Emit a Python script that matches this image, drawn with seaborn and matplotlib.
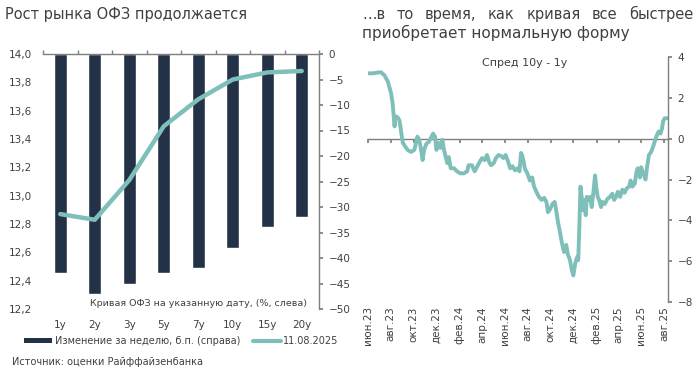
import numpy as np
import pandas as pd
import matplotlib
matplotlib.use("Agg")
import matplotlib.pyplot as plt
import matplotlib.dates as mdates
from matplotlib.ticker import FixedLocator, MultipleLocator, FuncFormatter
from matplotlib.lines import Line2D
from matplotlib.patches import Patch
import seaborn as sns

# ---------------- data ----------------
tenors = ["1y", "2y", "3y", "5y", "7y", "10y", "15y", "20y"]
weekly_change_bp = [-43, -47, -45, -43, -42, -38, -34, -32]
curve_pct = [12.87, 12.83, 13.11, 13.49, 13.68, 13.82, 13.87, 13.88]

spread_dates = [
    "2023-06-01", "2023-06-14", "2023-07-02", "2023-07-06", "2023-07-15", "2023-07-24",
    "2023-08-02", "2023-08-06", "2023-08-11", "2023-08-13", "2023-08-19", "2023-08-24",
    "2023-08-28", "2023-09-02", "2023-09-09", "2023-09-15", "2023-09-24", "2023-10-03",
    "2023-10-11", "2023-10-16", "2023-10-20", "2023-10-25", "2023-10-29", "2023-11-04",
    "2023-11-11", "2023-11-18", "2023-11-22", "2023-11-27", "2023-12-01", "2023-12-06",
    "2023-12-12", "2023-12-17", "2023-12-21", "2023-12-26", "2023-12-30", "2024-01-03",
    "2024-01-08", "2024-01-17", "2024-01-25", "2024-02-03", "2024-02-12", "2024-02-21",
    "2024-02-25", "2024-03-05", "2024-03-12", "2024-03-18", "2024-03-25", "2024-04-01",
    "2024-04-08", "2024-04-14", "2024-04-20", "2024-04-25", "2024-05-02", "2024-05-08",
    "2024-05-15", "2024-05-22", "2024-05-28", "2024-06-03", "2024-06-09", "2024-06-15",
    "2024-06-21", "2024-06-28", "2024-07-05", "2024-07-10", "2024-07-14", "2024-07-17",
    "2024-07-21", "2024-07-24", "2024-07-31", "2024-08-07", "2024-08-13", "2024-08-18",
    "2024-08-24", "2024-08-31", "2024-09-07", "2024-09-14", "2024-09-20", "2024-09-24",
    "2024-09-30", "2024-10-06", "2024-10-12", "2024-10-16", "2024-10-21", "2024-10-27",
    "2024-11-01", "2024-11-06", "2024-11-12", "2024-11-16", "2024-11-22", "2024-11-27",
    "2024-12-01", "2024-12-06", "2024-12-11", "2024-12-14", "2024-12-17", "2024-12-20",
    "2024-12-23", "2024-12-27", "2024-12-30", "2025-01-03", "2025-01-06", "2025-01-10",
    "2025-01-15", "2025-01-19", "2025-01-24", "2025-01-28", "2025-01-31", "2025-02-04",
    "2025-02-08", "2025-02-13", "2025-02-17", "2025-02-23", "2025-03-02", "2025-03-09",
    "2025-03-15", "2025-03-20", "2025-03-25", "2025-03-30", "2025-04-05", "2025-04-11",
    "2025-04-17", "2025-04-22", "2025-04-29", "2025-05-03", "2025-05-08", "2025-05-14",
    "2025-05-19", "2025-05-22", "2025-05-28", "2025-05-31", "2025-06-06", "2025-06-12",
    "2025-06-16", "2025-06-21", "2025-06-27", "2025-07-02", "2025-07-08", "2025-07-13",
    "2025-07-17", "2025-07-22", "2025-07-26", "2025-07-29", "2025-08-02", "2025-08-11",
]
spread_values = [
    3.2, 3.2, 3.25, 3.25, 3.1, 2.8,
    2.2, 1.7, 0.6, 1.1, 1.05, 0.9,
    0.4, -0.2, -0.4, -0.55, -0.65, -0.55,
    0.1, -0.05, -0.45, -1.05, -0.55, -0.25,
    -0.15, 0.1, 0.25, 0.1, -0.55, -0.2,
    -0.45, -0.05, -0.55, -0.9, -1.2, -0.9,
    -1.45, -1.45, -1.6, -1.7, -1.7, -1.6,
    -1.3, -1.3, -1.6, -1.4, -1.15, -0.95,
    -1.05, -0.8, -1.15, -1.3, -1.2, -0.95,
    -0.8, -0.85, -0.95, -0.8, -1.1, -1.45,
    -1.35, -1.55, -1.45, -1.6, -0.7, -0.8,
    -1.1, -1.45, -1.7, -2.05, -1.9, -2.35,
    -2.6, -2.85, -3.0, -2.9, -3.1, -3.6,
    -3.45, -3.2, -3.1, -3.5, -4.1, -4.65,
    -5.15, -5.55, -5.2, -5.65, -5.95, -6.45,
    -6.7, -6.1, -5.8, -5.95, -4.3, -2.35,
    -2.85, -3.5, -3.0, -3.75, -2.85, -3.0,
    -2.85, -3.35, -2.55, -1.8, -2.35, -2.85,
    -3.0, -3.35, -3.1, -3.2, -2.95, -2.85,
    -2.7, -3.0, -2.85, -2.6, -2.85, -2.5,
    -2.65, -2.45, -2.35, -2.05, -2.35, -2.2,
    -1.6, -1.45, -1.9, -1.4, -1.7, -2.0,
    -1.4, -0.8, -0.65, -0.4, -0.05, 0.2,
    0.35, 0.25, 0.5, 0.85, 1.0, 1.0,
]

date_tick_dates = ["2023-06-01", "2023-08-01", "2023-10-01", "2023-12-01", "2024-02-01",
                   "2024-04-01", "2024-06-01", "2024-08-01", "2024-10-01", "2024-12-01",
                   "2025-02-01", "2025-04-01", "2025-06-01", "2025-08-01"]
date_tick_labels = ["июн.23", "авг.23", "окт.23", "дек.23", "фев.24", "апр.24", "июн.24",
                    "авг.24", "окт.24", "дек.24", "фев.25", "апр.25", "июн.25", "авг.25"]

title_left = "Рост рынка ОФЗ продолжается"
title_right_line1 = ["…в", "то", "время,", "как", "кривая", "все", "быстрее"]
title_right_line2 = "приобретает нормальную форму"
curve_caption = "Кривая ОФЗ на указанную дату, (%, слева)"
legend_bars = "Изменение за неделю, б.п. (справа)"
legend_line = "11.08.2025"
spread_title = "Спред 10y - 1y"
source_text = "Источник: оценки Райффайзенбанка"

# ---------------- style ----------------
sns.set_theme(style="white")
plt.rcParams["font.family"] = ["DejaVu Sans"]
TXT = "#404040"
AX = "#7f7f7f"
NAVY = "#243247"
TEAL = "#7fbfba"

W, H = 700, 371
fig = plt.figure(figsize=(W / 100, H / 100), dpi=100)


def fx(px):
    return px / W


def fy(py):
    return 1 - py / H


# ---------------- left chart ----------------
axL = fig.add_axes([fx(43), fy(309), fx(319) - fx(43), fy(54) - fy(309)])
sns.barplot(x=tenors, y=weekly_change_bp, color=NAVY, saturation=1, width=0.37, ax=axL)
axC = axL.twinx()
sns.pointplot(x=tenors, y=curve_pct, ax=axC, color=TEAL, marker="", linestyle="-",
              linewidth=3.2, errorbar=None)

axL.yaxis.tick_right()
axL.set_ylim(-50, 0)
axL.yaxis.set_major_locator(MultipleLocator(5))
axL.set_xlim(-0.5, 7.5)
axL.set_xlabel("")
axL.set_ylabel("")
for s in ["left", "bottom"]:
    axL.spines[s].set_visible(False)
for s in ["top", "right"]:
    axL.spines[s].set_visible(True)
    axL.spines[s].set_color(AX)
    axL.spines[s].set_linewidth(1)
axL.tick_params(axis="y", which="major", right=True, left=False, labelright=True,
                labelleft=False, direction="out", length=3, color=AX, labelsize=7.5,
                labelcolor=TXT, pad=4)
axL.xaxis.set_minor_locator(FixedLocator(np.arange(-0.5, 8.0, 1.0)))
axL.tick_params(axis="x", which="minor", top=True, bottom=False, direction="out",
                length=3, color=AX)
axL.tick_params(axis="x", which="major", bottom=True, top=False, length=0,
                labelsize=7.5, labelcolor=TXT, pad=8)

axC.yaxis.tick_left()
axC.yaxis.set_label_position("left")
axC.set_ylim(12.2, 14.0)
axC.yaxis.set_major_locator(MultipleLocator(0.2))
axC.yaxis.set_major_formatter(FuncFormatter(lambda v, p: f"{v:.1f}".replace(".", ",")))
axC.tick_params(axis="y", left=True, right=False, labelleft=True, labelright=False,
                length=0, labelsize=7.5, labelcolor=TXT, pad=8)
axC.set_xlim(-0.5, 7.5)
axC.set_ylabel("")
axC.set_xlabel("")
for s in axC.spines.values():
    s.set_visible(False)

fig.text(fx(198), fy(304), curve_caption, ha="center", va="center", fontsize=6.8,
         color=TXT)

handles = [Patch(facecolor=NAVY, edgecolor="none"),
           Line2D([0], [0], color=TEAL, lw=3)]
fig.legend(handles, [legend_bars, legend_line], loc="center left",
           bbox_to_anchor=(fx(24), fy(341)), ncol=2, frameon=False, fontsize=7,
           labelcolor=TXT, handlelength=2.9, handleheight=0.55, handletextpad=0.25,
           columnspacing=1.3, borderaxespad=0, borderpad=0)

# ---------------- right chart ----------------
axR = fig.add_axes([fx(368), fy(302), fx(668) - fx(368), fy(57) - fy(302)])
df = pd.DataFrame({"date": pd.to_datetime(spread_dates), "spread": spread_values})
sns.lineplot(data=df, x="date", y="spread", ax=axR, color=TEAL, linewidth=2.8)
axR.set_xlim(df["date"].iloc[0], df["date"].iloc[-1])
axR.set_ylim(-8, 4)
axR.yaxis.set_major_locator(MultipleLocator(2))
axR.yaxis.tick_right()
axR.set_xlabel("")
axR.set_ylabel("")
for s in ["left", "top"]:
    axR.spines[s].set_visible(False)
axR.spines["right"].set_color(AX)
axR.spines["right"].set_linewidth(1)
axR.spines["bottom"].set_position(("data", 0))
axR.spines["bottom"].set_color(AX)
axR.spines["bottom"].set_linewidth(1)
axR.spines["bottom"].set_zorder(1)
tick_pos = mdates.date2num(pd.to_datetime(date_tick_dates))
axR.xaxis.set_major_locator(FixedLocator(tick_pos))
axR.tick_params(axis="x", bottom=True, labelbottom=False, direction="out", length=3,
                color=AX)
axR.tick_params(axis="y", right=True, left=False, direction="out", length=3, color=AX,
                labelsize=7.5, labelcolor=TXT, pad=4)

sec = axR.secondary_xaxis("bottom")
sec.set_xticks(tick_pos)
sec.set_xticklabels(date_tick_labels, rotation=90)
sec.spines["bottom"].set_visible(False)
sec.tick_params(axis="x", length=0, labelsize=7.5, labelcolor=TXT, pad=3)

fig.text(fx(525), fy(63), spread_title, ha="center", va="center", fontsize=8,
         color=TXT)

# ---------------- titles & source ----------------
fig.text(fx(5), fy(19), title_left, ha="left", va="baseline", fontsize=10.5, color=TXT)

# justified first line of the right title (between x=362 and x=693 px)
line1_left, line1_right = 362, 693
word_texts = [fig.text(0, fy(19), w, ha="left", va="baseline", fontsize=10.5, color=TXT)
              for w in title_right_line1]
renderer = fig.canvas.get_renderer()
widths = [t.get_window_extent(renderer=renderer).width for t in word_texts]
gap = (line1_right - line1_left - sum(widths)) / (len(widths) - 1)
xpos = line1_left
for t, wd in zip(word_texts, widths):
    t.set_x(fx(xpos))
    xpos += wd + gap

fig.text(fx(362), fy(38), title_right_line2, ha="left", va="baseline", fontsize=11,
         color=TXT)
fig.text(fx(12), fy(362), source_text, ha="left", va="center", fontsize=7, color=TXT)

fig.savefig("out.png", dpi=100)
